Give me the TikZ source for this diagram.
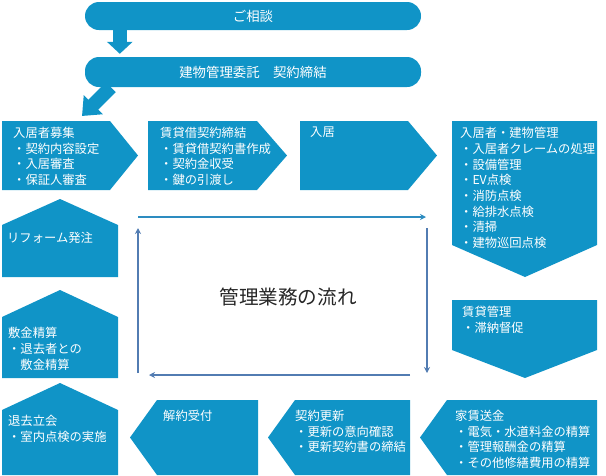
\documentclass[tikz,border=0pt]{standalone}
\usepackage{fontspec}
\setmainfont{Noto Sans CJK JP}
\usetikzlibrary{arrows.meta}

\definecolor{flowblue}{RGB}{16,148,199}
\definecolor{loopcyan}{RGB}{45,140,192}
\definecolor{loopsteel}{RGB}{82,124,178}

\tikzstyle{every node}=[inner sep=0pt, font=\fontsize{12.3}{15.7}\selectfont]
\tikzstyle{pill}=[fill=flowblue, rounded corners=14pt, text=white, minimum width=336pt, font=\fontsize{13.4}{16}\selectfont]
\tikzstyle{box}=[fill=flowblue]
\tikzstyle{boxtext}=[anchor=north west, align=left, text=white]
\tikzstyle{blockarrow}=[draw=flowblue, line width=14pt, -{Triangle[length=12pt,width=25pt]}]
\tikzstyle{loopline}=[line width=1.4pt, -{Stealth[length=6pt,width=6pt]}]

\begin{document}
\begin{tikzpicture}[x=1pt,y=-1pt]
    \useasboundingbox (0,0) rectangle (606,475);

    % start of the contract
    \node [pill, minimum height=28pt] (consult) at (253,16) {ご相談};
    \node [pill, minimum height=30pt] (contract) at (253,72) {建物管理委託　契約締結};
    \coordinate (entry) at (82,116);
    \draw [blockarrow] ([xshift=35pt]consult.south west) -- ([xshift=35pt,yshift=3pt]contract.north west);
    \draw [blockarrow, -{Triangle[length=16pt,width=26pt]}] ([xshift=26pt]contract.south west) -- (entry);

    % top row
    \fill [box] (2,121) -- (110,121) -- (138,155.5) -- (110,190) -- (2,190) -- cycle;
    \node [boxtext] (recruit) at (13,127) {入居者募集\\・契約内容設定\\・入居審査\\・保証人審査};
    \fill [box] (148,121) -- (257,121) -- (287,155.5) -- (257,190) -- (148,190) -- cycle;
    \node [boxtext] (lease) at (160,127) {賃貸借契約締結\\・賃貸借契約書作成\\・契約金収受\\・鍵の引渡し};
    \fill [box] (300,121) -- (408,121) -- (437,155.5) -- (408,190) -- (300,190) -- cycle;
    \node [boxtext] (movein) at (310,127) {入居};

    % right column
    \fill [box] (452,121) -- (597,121) -- (597,245) -- (525,277) -- (452,245) -- cycle;
    \node [boxtext] (care) at (460,127) {入居者・建物管理\\・入居者クレームの処理\\・設備管理\\・EV点検\\・消防点検\\・給排水点検\\・清掃\\・建物巡回点検};
    \fill [box] (452,300) -- (597,300) -- (597,350) -- (525,378) -- (452,350) -- cycle;
    \node [boxtext] (rent) at (462,306) {賃貸管理\\・滞納督促};

    % bottom row
    \fill [box] (447,400) -- (597,400) -- (597,475) -- (447,475) -- (420,437.5) -- cycle;
    \node [boxtext] (remit) at (455,410) {家賃送金\\・電気・水道料金の精算\\・管理報酬金の精算\\・その他修繕費用の精算};
    \fill [box] (295,400) -- (410,400) -- (410,475) -- (295,475) -- (268,437.5) -- cycle;
    \node [boxtext] (renew) at (295,410) {契約更新\\・更新の意向確認\\・更新契約書の締結};
    \fill [box] (157,400) -- (258,400) -- (258,475) -- (157,475) -- (130,437.5) -- cycle;
    \node [boxtext] (cancel) at (163,410) {解約受付};

    % left column
    \fill [box] (2,410) -- (60,383) -- (118,410) -- (118,475) -- (2,475) -- cycle;
    \node [boxtext] (leave) at (8,415) {退去立会\\・室内点検の実施};
    \fill [box] (2,317) -- (60,290) -- (118,317) -- (118,378) -- (2,378) -- cycle;
    \node [boxtext] (deposit) at (8,327) {敷金精算\\・退去者との\\　敷金精算};
    \fill [box] (2,225) -- (60,199) -- (118,225) -- (118,277) -- (2,277) -- cycle;
    \node [boxtext] (reform) at (7,232) {リフォーム発注};

    % the cycle in the middle
    \node [font=\fontsize{19.6}{24}\selectfont, text=black!85] (title) at (288,297) {管理業務の流れ};
    \coordinate (tl) at (138,217);
    \coordinate (tr) at (426,217);
    \coordinate (rt) at (427,228);
    \coordinate (rb) at (427,373);
    \coordinate (br) at (410,375);
    \coordinate (bl) at (149,375);
    \coordinate (lb) at (138,373);
    \coordinate (lt) at (138,228);
    \draw [loopline, loopcyan] (tl) -- (tr);
    \draw [loopline, loopsteel] (rt) -- (rb);
    \draw [loopline, loopsteel] (br) -- (bl);
    \draw [loopline, loopsteel] (lb) -- (lt);
\end{tikzpicture}
\end{document}
